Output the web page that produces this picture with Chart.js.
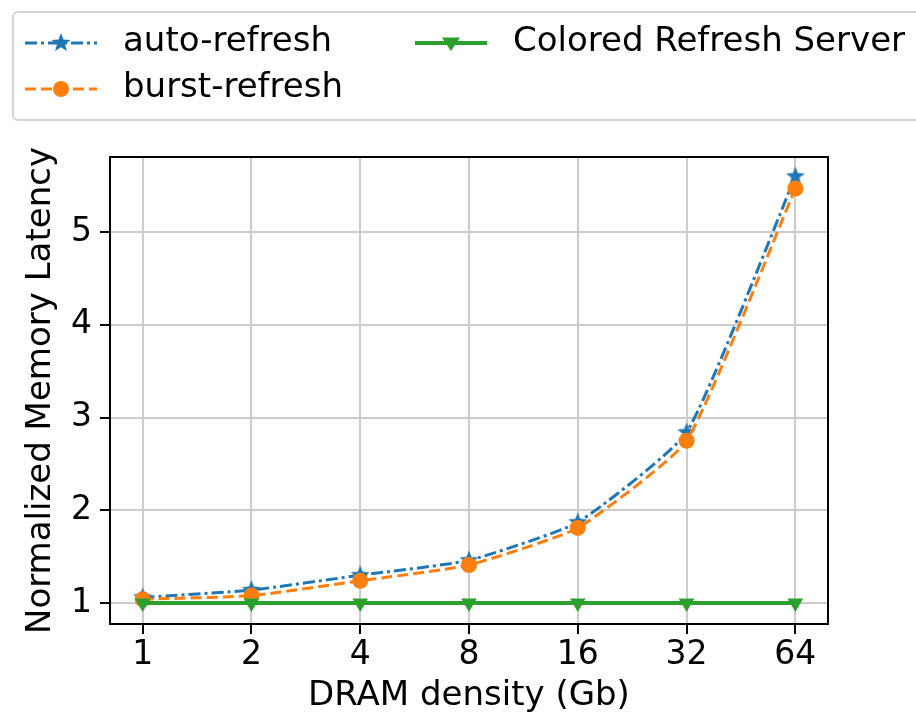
<!DOCTYPE html>
<html>
<head>
<meta charset="utf-8">
<title>Normalized Memory Latency vs DRAM density</title>
<script src="https://cdn.jsdelivr.net/npm/chart.js@4/dist/chart.umd.min.js"></script>
<style>
  html, body { margin: 0; padding: 0; background: #fff; }
  #wrap { width: 916px; height: 715px; }
</style>
</head>
<body>
<div id="wrap"><canvas id="chart" width="916" height="715"></canvas></div>
<script>
// data
const densities = ["1", "2", "4", "8", "16", "32", "64"];
const autoRefresh = [1.06, 1.14, 1.30, 1.46, 1.87, 2.84, 5.60];
const burstRefresh = [1.04, 1.08, 1.24, 1.41, 1.81, 2.75, 5.47];
const coloredRefresh = [1.0, 1.0, 1.0, 1.0, 1.0, 1.0, 1.0];
const yTicks = [1, 2, 3, 4, 5];

const FONT = "'DejaVu Sans', sans-serif";
const BLUE = "#1f77b4", ORANGE = "#ff7f0e", GREEN = "#2ca02c";

// filled 5-point star like matplotlib's '*' marker
function starImage(color, r) {
  const c = document.createElement("canvas");
  const s = Math.ceil(r * 2 + 2);
  c.width = c.height = s;
  const g = c.getContext("2d");
  g.fillStyle = color;
  g.beginPath();
  for (let i = 0; i < 10; i++) {
    const rad = i % 2 ? r * 0.42 : r;
    const a = -Math.PI / 2 + i * Math.PI / 5;
    g.lineTo(s / 2 + rad * Math.cos(a), s / 2 + rad * Math.sin(a));
  }
  g.closePath();
  g.fill();
  return c;
}
const star = starImage(BLUE, 10);

const toPoints = arr => arr.map((v, i) => ({ x: i, y: v }));

// box around the plot (matplotlib spines)
const frame = {
  id: "frame",
  afterDatasetsDraw(chart) {
    const { ctx, chartArea: a } = chart;
    ctx.save();
    ctx.strokeStyle = "#000";
    ctx.lineWidth = 2;
    ctx.strokeRect(a.left, a.top, a.right - a.left, a.bottom - a.top);
    ctx.restore();
  }
};

// two-column legend in a framed box, like the figure
const legendBox = {
  id: "legendBox",
  afterDraw(chart) {
    const ctx = chart.ctx;
    const ds = chart.data.datasets;
    ctx.save();
    ctx.strokeStyle = "#d4d4d4";
    ctx.lineWidth = 2;
    ctx.beginPath();
    ctx.roundRect(13, 12, 930, 108, 5);
    ctx.stroke();

    const slots = [
      { i: 0, x: 25, y: 43 },
      { i: 1, x: 25, y: 89 },
      { i: 2, x: 415, y: 43 }
    ];
    slots.forEach(s => {
      const d = ds[s.i];
      ctx.strokeStyle = d.borderColor;
      ctx.lineWidth = d.borderWidth;
      ctx.setLineDash(d.borderDash || []);
      ctx.beginPath();
      ctx.moveTo(s.x, s.y);
      ctx.lineTo(s.x + 72, s.y);
      ctx.stroke();
      ctx.setLineDash([]);
      const cx = s.x + 36;
      ctx.fillStyle = d.pointBackgroundColor;
      if (d.pointStyle === "circle") {
        ctx.beginPath();
        ctx.arc(cx, s.y, d.pointRadius, 0, Math.PI * 2);
        ctx.fill();
      } else if (d.pointStyle === "triangle") {
        const r = d.pointRadius;
        ctx.beginPath();
        ctx.moveTo(cx - r, s.y - r * 0.6);
        ctx.lineTo(cx + r, s.y - r * 0.6);
        ctx.lineTo(cx, s.y + r * 0.9);
        ctx.closePath();
        ctx.fill();
      } else {
        ctx.drawImage(d.pointStyle, cx - d.pointStyle.width / 2, s.y - d.pointStyle.height / 2);
      }
      ctx.fillStyle = "#000";
      ctx.font = "34px " + FONT;
      ctx.textBaseline = "middle";
      ctx.textAlign = "left";
      ctx.fillText(d.label, s.x + 98, s.y - 1);
    });
    ctx.restore();
  }
};

new Chart(document.getElementById("chart"), {
  type: "line",
  data: {
    datasets: [
      {
        label: "auto-refresh",
        data: toPoints(autoRefresh),
        borderColor: BLUE,
        backgroundColor: BLUE,
        pointBackgroundColor: BLUE,
        borderWidth: 3,
        borderDash: [12, 4, 3, 4],
        pointStyle: star,
        pointRadius: 9,
        tension: 0.15,
        order: 3
      },
      {
        label: "burst-refresh",
        data: toPoints(burstRefresh),
        borderColor: ORANGE,
        backgroundColor: ORANGE,
        pointBackgroundColor: ORANGE,
        borderWidth: 3,
        borderDash: [11, 5],
        pointStyle: "circle",
        pointRadius: 8,
        pointBorderWidth: 0,
        tension: 0.15,
        order: 2
      },
      {
        label: "Colored Refresh Server",
        data: toPoints(coloredRefresh),
        borderColor: GREEN,
        backgroundColor: GREEN,
        pointBackgroundColor: GREEN,
        borderWidth: 4,
        pointStyle: "triangle",
        pointRotation: 180,
        pointRadius: 9,
        pointBorderWidth: 0,
        order: 1
      }
    ]
  },
  options: {
    responsive: false,
    animation: false,
    layout: { padding: { top: 157, right: 88, left: 0, bottom: 0 } },
    plugins: { legend: { display: false }, tooltip: { enabled: false } },
    scales: {
      x: {
        type: "linear",
        min: -0.3,
        max: 6.3,
        afterBuildTicks: s => { s.ticks = densities.map((_, i) => ({ value: i })); },
        afterFit: s => { s.height = 91; },
        ticks: {
          callback: v => densities[Math.round(v)],
          font: { family: FONT, size: 33 },
          color: "#000",
          padding: 2,
          maxRotation: 0,
          autoSkip: false
        },
        grid: { color: "#cccccc", lineWidth: 2, tickColor: "#000", tickLength: 10, tickWidth: 2 },
        border: { display: false },
        title: {
          display: true,
          text: "DRAM density (Gb)",
          font: { family: FONT, size: 34, lineHeight: 1.1 },
          color: "#000",
          padding: { top: 0, bottom: 0 }
        }
      },
      y: {
        min: 0.774,
        max: 5.81,
        afterBuildTicks: s => { s.ticks = yTicks.map(v => ({ value: v })); },
        afterFit: s => { s.width = 110; },
        ticks: {
          font: { family: FONT, size: 33 },
          color: "#000",
          padding: 8
        },
        grid: { color: "#cccccc", lineWidth: 2, tickColor: "#000", tickLength: 10, tickWidth: 2 },
        border: { display: false },
        title: {
          display: true,
          text: "Normalized Memory Latency",
          font: { family: FONT, size: 34, lineHeight: 1.1 },
          color: "#000",
          padding: { top: 22, bottom: 0 }
        }
      }
    }
  },
  plugins: [frame, legendBox]
});
</script>
</body>
</html>
